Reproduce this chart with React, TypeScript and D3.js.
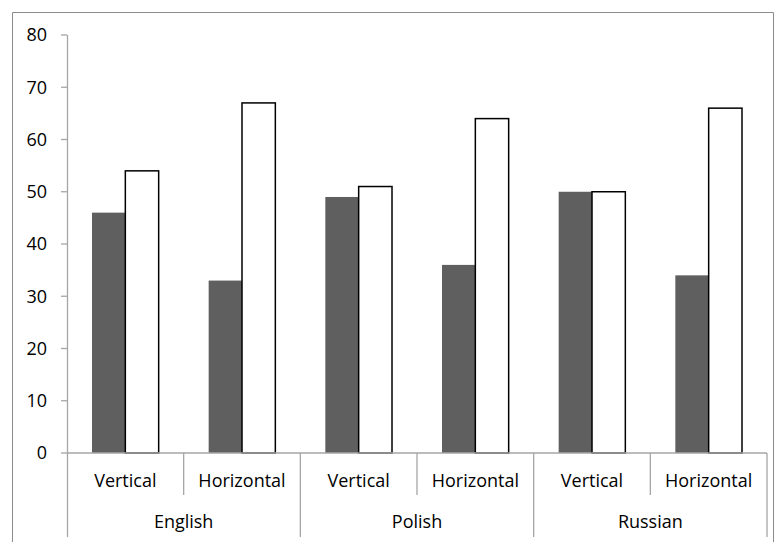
import React from "react";
import * as d3 from "d3";

const groups = ["English", "Polish", "Russian"];
const subcats = ["Vertical", "Horizontal"];
const seriesA = [46, 33, 49, 36, 50, 34]; // dark bars
const seriesB = [54, 67, 51, 64, 50, 66]; // white bars
const yTicks = [0, 10, 20, 30, 40, 50, 60, 70, 80];

export default function App() {
  const W = 782, H = 542;
  const left = 67, right = 767, top = 35, bottom = 453;
  const slots = groups.flatMap((g) => subcats.map((s) => `${g}|${s}`));
  const x = d3.scaleBand().domain(slots).range([left, right]).paddingInner(0).paddingOuter(0);
  const y = d3.scaleLinear().domain([0, 80]).range([bottom, top]);
  const bw = x.bandwidth();
  const barW = bw / 3.5;
  const font = "'Open Sans', sans-serif";
  const fs = 18;
  const axisColor = "#a6a6a6";
  const groupW = bw * subcats.length;

  return (
    <svg width={W} height={H} style={{ position: "absolute", left: 0, top: 0 }}>
      <rect x={0} y={0} width={W} height={H} fill="#fff" />
      <path d={`M12.5,${H + 2} V12.5 H773.5 V${H + 2}`} fill="none" stroke="#8c8c8c" strokeWidth={1} />
      {/* y axis */}
      <line x1={left + 0.5} x2={left + 0.5} y1={top} y2={537} stroke={axisColor} strokeWidth={1.3} />
      {yTicks.map((t) => (
        <g key={t}>
          <line x1={61} x2={left} y1={y(t)} y2={y(t)} stroke={axisColor} strokeWidth={1.3} />
          <text x={47} y={y(t)} dy="0.35em" textAnchor="end" fontFamily={font} fontSize={fs} fill="#000">
            {t}
          </text>
        </g>
      ))}
      {/* bars */}
      {slots.map((s, i) => {
        const x0 = (x(s) as number) + (bw - 2 * barW) / 2;
        return (
          <g key={s}>
            <rect x={x0} y={y(seriesA[i])} width={barW} height={bottom - y(seriesA[i])} fill="#5f5f5f" />
            <rect
              x={x0 + barW}
              y={y(seriesB[i])}
              width={barW}
              height={bottom - y(seriesB[i])}
              fill="#fff"
              stroke="#000"
              strokeWidth={1.5}
            />
          </g>
        );
      })}
      {/* x axis */}
      <line x1={left} x2={right} y1={bottom} y2={bottom} stroke={axisColor} strokeWidth={1.3} />
      {slots.map((s, i) => {
        const xs = x(s) as number;
        const [, sub] = s.split("|");
        return (
          <g key={"l" + s}>
            {i % 2 === 1 && (
              <line x1={xs} x2={xs} y1={bottom} y2={495} stroke={axisColor} strokeWidth={1.3} />
            )}
            <text x={xs + bw / 2} y={481} dy="0.35em" textAnchor="middle" fontFamily={font} fontSize={fs} fill="#000">
              {sub}
            </text>
          </g>
        );
      })}
      {groups.map((g, gi) => {
        const gx = left + gi * groupW;
        return (
          <g key={g}>
            <line x1={gx + groupW} x2={gx + groupW} y1={bottom} y2={537} stroke={axisColor} strokeWidth={1.3} />
            <text x={gx + groupW / 2} y={522} dy="0.35em" textAnchor="middle" fontFamily={font} fontSize={fs} fill="#000">
              {g}
            </text>
          </g>
        );
      })}
    </svg>
  );
}
